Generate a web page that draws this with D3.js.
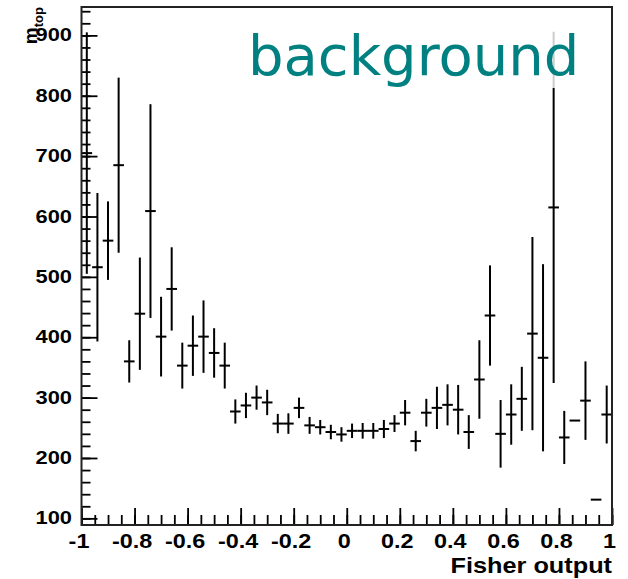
<!DOCTYPE html>
<html>
<head>
<meta charset="utf-8">
<script src="https://cdn.jsdelivr.net/npm/d3@7"></script>
<style>
  body { margin: 0; background: #fff; }
  text { font-family: "Liberation Sans", Arial, Helvetica, sans-serif; }
</style>
</head>
<body>
<div id="chart"></div>
<script>
// histogram of Fisher output, 50 bins of width 0.04
var binCentres = [-0.98, -0.94, -0.90, -0.86, -0.82, -0.78, -0.74, -0.70, -0.66, -0.62,
                  -0.58, -0.54, -0.50, -0.46, -0.42, -0.38, -0.34, -0.30, -0.26, -0.22,
                  -0.18, -0.14, -0.10, -0.06, -0.02, 0.02, 0.06, 0.10, 0.14, 0.18,
                  0.22, 0.26, 0.30, 0.34, 0.38, 0.42, 0.46, 0.50, 0.54, 0.58,
                  0.62, 0.66, 0.70, 0.74, 0.78, 0.82, 0.86, 0.90, 0.94, 0.98];
var binHalfWidth = 0.02;
var values = [705, 516, 560, 685, 360, 439, 609, 401, 480, 353,
              386, 401, 374, 353, 277, 287, 300, 292, 257, 257,
              283, 254, 251, 243, 239, 245, 245, 245, 248, 257,
              275, 228, 275, 283, 288, 280, 243, 330, 436, 240,
              272, 298, 406, 366, 615, 234, 262, 295, 131, 272];
var errors = [200, 123, 65, 145, 35, 93, 177, 66, 69, 38,
              50, 60, 41, 38, 20, 21, 20, 21, 16, 17,
              17, 14, 12, 12, 12, 12, 13, 13, 15, 14,
              21, 17, 23, 35, 34, 41, 28, 65, 83, 56,
              50, 53, 160, 155, 291, 44, 0, 65, 0, 48];

var xTickValues = [-1, -0.8, -0.6, -0.4, -0.2, 0, 0.2, 0.4, 0.6, 0.8, 1];
var xTickLabels = ["-1", "-0.8", "-0.6", "-0.4", "-0.2", "0", "0.2", "0.4", "0.6", "0.8", "1"];
var yTickValues = [100, 200, 300, 400, 500, 600, 700, 800, 900];
var yTickLabels = ["100", "200", "300", "400", "500", "600", "700", "800", "900"];

var width = 628, height = 579;
var frameLeft = 81.5, frameRight = 612, frameTop = 7, frameBottom = 525;

var svg = d3.select("#chart")
  .append("svg")
  .attr("width", width)
  .attr("height", height);

var x = d3.scaleLinear()
  .domain([-1, 1])
  .range([frameLeft, frameRight]);

var y = d3.scaleLinear()
  .domain([89, 947])
  .range([frameBottom, frameTop]);

// minor ticks
svg.append("g")
  .attr("transform", "translate(0," + frameBottom + ")")
  .call(d3.axisBottom(x).tickValues(d3.range(-1, 1.001, 0.05)).tickSizeInner(-10).tickSizeOuter(0).tickFormat(""))
  .call(function(g) { g.select(".domain").remove(); })
  .selectAll("line").attr("stroke", "#000").attr("stroke-width", 1.8);

svg.append("g")
  .attr("transform", "translate(" + frameLeft + ",0)")
  .call(d3.axisLeft(y).tickValues(d3.range(100, 947, 20)).tickSizeInner(-9).tickSizeOuter(0).tickFormat(""))
  .call(function(g) { g.select(".domain").remove(); })
  .selectAll("line").attr("stroke", "#000").attr("stroke-width", 1.8);

// major ticks + labels
var xAxis = svg.append("g")
  .attr("transform", "translate(0," + frameBottom + ")")
  .call(d3.axisBottom(x)
    .tickValues(xTickValues)
    .tickSizeInner(-17)
    .tickSizeOuter(0)
    .tickPadding(9.3)
    .tickFormat(function(d, i) { return xTickLabels[i]; }))
  .call(function(g) { g.select(".domain").remove(); });
xAxis.selectAll("line").attr("stroke", "#000").attr("stroke-width", 1.8);
xAxis.selectAll("text")
  .attr("fill", "#000")
  .style("font-size", "19.5px")
  .style("font-weight", "bold")
  .attr("transform", "translate(-3,0) scale(1.2,1)");

var yAxis = svg.append("g")
  .attr("transform", "translate(" + frameLeft + ",0)")
  .call(d3.axisLeft(y)
    .tickValues(yTickValues)
    .tickSizeInner(-16)
    .tickSizeOuter(0)
    .tickPadding(7.6)
    .tickFormat(function(d, i) { return yTickLabels[i]; }))
  .call(function(g) { g.select(".domain").remove(); });
yAxis.selectAll("line").attr("stroke", "#000").attr("stroke-width", 1.8);
yAxis.selectAll("text")
  .attr("fill", "#000")
  .style("font-size", "17.5px")
  .style("font-weight", "bold")
  .attr("transform", "scale(1.25,1)");

// error bars
var bins = svg.append("g").attr("class", "bins");

bins.selectAll("line.xerr")
  .data(values)
  .enter()
  .append("line")
    .attr("class", "xerr")
    .attr("x1", function(d, i) { return x(binCentres[i] - binHalfWidth); })
    .attr("x2", function(d, i) { return x(binCentres[i] + binHalfWidth); })
    .attr("y1", function(d) { return y(d); })
    .attr("y2", function(d) { return y(d); })
    .attr("stroke", "#000")
    .attr("stroke-width", 2);

bins.selectAll("line.yerr")
  .data(values)
  .enter()
  .append("line")
    .attr("class", "yerr")
    .attr("x1", function(d, i) { return x(binCentres[i]); })
    .attr("x2", function(d, i) { return x(binCentres[i]); })
    .attr("y1", function(d, i) { return y(d - errors[i]); })
    .attr("y2", function(d, i) { return y(d + errors[i]); })
    .attr("stroke", "#000")
    .attr("stroke-width", 2);

// frame
svg.append("rect")
  .attr("x", frameLeft)
  .attr("y", frameTop)
  .attr("width", frameRight - frameLeft)
  .attr("height", frameBottom - frameTop)
  .attr("fill", "none")
  .attr("stroke", "#222")
  .attr("stroke-width", 2);

// label box (semi transparent) and title
svg.append("rect")
  .attr("x", 240)
  .attr("y", 12)
  .attr("width", 360)
  .attr("height", 76)
  .attr("fill", "#fff")
  .attr("fill-opacity", 0.8);

svg.append("text")
  .attr("x", 248)
  .attr("y", 75)
  .style("font-family", "'DejaVu Sans', Verdana, sans-serif")
  .style("font-size", "56px")
  .attr("fill", "#008080")
  .text("background");

// axis titles
svg.append("g")
  .attr("transform", "translate(612,573) scale(1.15,1)")
  .append("text")
    .attr("text-anchor", "end")
    .style("font-size", "22px")
    .style("font-weight", "bold")
    .text("Fisher output");

var ylab = svg.append("text")
  .attr("transform", "translate(37,7) rotate(-90)")
  .attr("text-anchor", "end")
  .style("font-size", "19px")
  .style("font-weight", "bold");
ylab.append("tspan").text("m");
ylab.append("tspan")
  .attr("dy", 6)
  .style("font-size", "13px")
  .text("top");
</script>
</body>
</html>
